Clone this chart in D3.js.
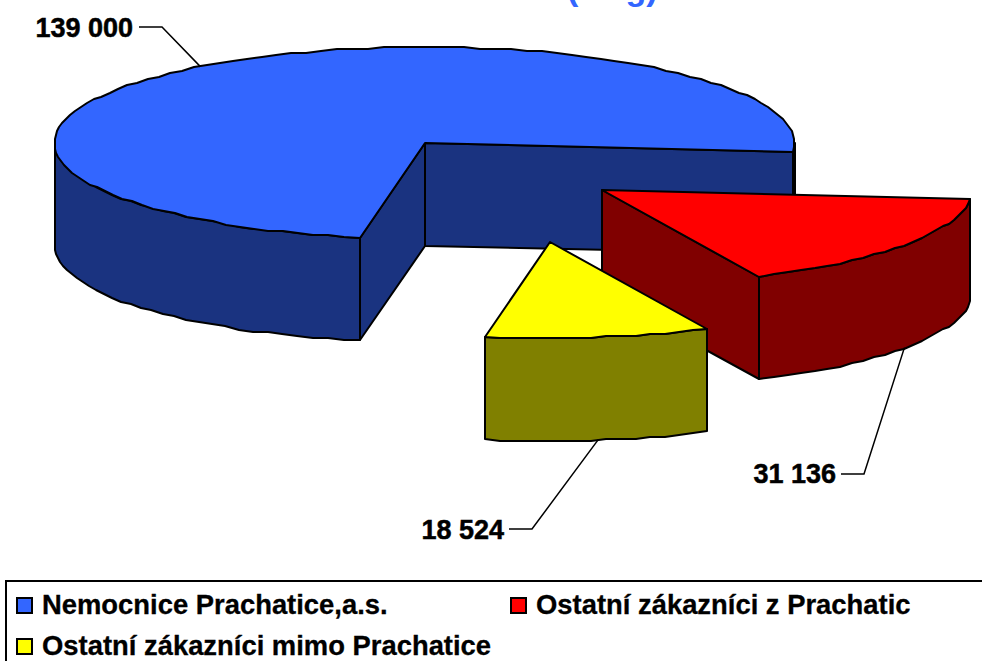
<!DOCTYPE html>
<html>
<head>
<meta charset="utf-8">
<script src="https://cdn.jsdelivr.net/npm/d3@7"></script>
<style>
html,body{margin:0;padding:0;background:#fff;overflow:hidden}
svg{display:block}
text{font-family:"Liberation Sans",Arial,sans-serif;font-weight:bold;fill:#000}
</style>
</head>
<body>
<svg id="c" width="982" height="661"></svg>
<script>
const categories = ["Nemocnice Prachatice,a.s.", "Ostatní zákazníci z Prachatic", "Ostatní zákazníci mimo Prachatice"];
const values = [139000, 31136, 18524];
const topColors = ["#3366FF", "#FF0000", "#FFFF00"];
const sideColors = ["#1A3380", "#800000", "#808000"];
const titleText = "(v kg)";

// layout
const cx = 424.5, cy = 143, rx = 370, ry = 96, depth = 102.5;
const explode = [[0, 0], [177, 47], [125, 99]];
const firstAngle = (100.1 + 90) * Math.PI / 180; // d3.pie angle: clockwise from 12 o'clock
const labelPos = [[133, 37], [836, 483], [504, 539]];
const leaderElbow = [[[139, 27], [162, 27]], [[841, 474], [864, 474]], [[509, 529], [532, 529]]];

const svg = d3.select("#c");
const fmt = d3.formatLocale({decimal: ",", thousands: " ", grouping: [3], currency: ["", ""]}).format(",d");
const line = d3.line();
const step = 2.5 * Math.PI / 180;
const yGrid = 2;

const arcs = d3.pie().value(d => d).sort(null)
  .startAngle(firstAngle).endAngle(firstAngle + 2 * Math.PI)(values);

function pt(a, i, dz) {
  const [ox, oy] = explode[i];
  return [cx + ox + rx * Math.sin(a), cy + oy - ry * Math.cos(a) + (dz || 0)];
}
function centre(i, dz) {
  return [cx + explode[i][0], cy + explode[i][1] + (dz || 0)];
}
function samples(a0, a1) {
  const n = Math.max(1, Math.ceil((a1 - a0) / step));
  return d3.range(n + 1).map(k => a0 + (a1 - a0) * k / n);
}
// rim polyline: the ends stay exact, the points between are snapped to a coarse grid
function rim(a0, a1, i, dz) {
  const as = samples(a0, a1);
  const base = cy + explode[i][1] + (dz || 0);
  return as.map((a, k) => {
    const p = pt(a, i, dz);
    if (k === 0 || k === as.length - 1) return p;
    const q = Math.round((p[1] - base + 96) / yGrid) * yGrid - 96 + base;
    return [p[0], q];
  });
}
// parts of [a0,a1] whose outer wall faces the viewer (lower half of the ellipse)
function frontParts(a0, a1) {
  const out = [];
  for (let k = -1; k <= 2; k++) {
    const lo = Math.max(a0, Math.PI / 2 + k * 2 * Math.PI);
    const hi = Math.min(a1, 3 * Math.PI / 2 + k * 2 * Math.PI);
    if (hi > lo) out.push([lo, hi]);
  }
  return out;
}
const P = p => [Math.round(p[0]), Math.round(p[1])];
const strokeStyle = s => s.attr("stroke", "#000").attr("stroke-width", 2).attr("stroke-linejoin", "round");

const chart = svg.append("g");
arcs.forEach((d, i) => {
  const g = chart.append("g");
  // radial side faces
  [[d.startAngle, Math.cos(d.startAngle - Math.PI / 2) < 0], [d.endAngle, Math.cos(d.endAngle - Math.PI / 2) > 0]]
    .filter(f => f[1]).forEach(([a]) => {
      const poly = [centre(i), pt(a, i), pt(a, i, depth), centre(i, depth)].map(P);
      g.append("path").attr("d", line(poly) + "Z").attr("fill", sideColors[i]).call(strokeStyle);
    });
  // outer wall
  frontParts(d.startAngle, d.endAngle).forEach(([lo, hi]) => {
    const poly = rim(lo, hi, i).concat(rim(lo, hi, i, depth).reverse()).map(P);
    g.append("path").attr("d", line(poly) + "Z").attr("fill", sideColors[i]).call(strokeStyle);
  });
  // top
  const top = [centre(i)].concat(rim(d.startAngle, d.endAngle, i)).map(P);
  g.append("path").attr("d", line(top) + "Z").attr("fill", topColors[i]).call(strokeStyle);
});

// leaders and value labels
arcs.forEach((d, i) => {
  const mid = (d.startAngle + d.endAngle) / 2;
  const anchor = pt(mid, i, i === 0 ? 0 : depth);
  svg.append("path")
    .attr("d", line(leaderElbow[i].concat([anchor])))
    .attr("fill", "none").attr("stroke", "#000").attr("stroke-width", 1.5);
  svg.append("text").attr("x", labelPos[i][0]).attr("y", labelPos[i][1])
    .attr("text-anchor", "end").attr("font-size", 27)
    .attr("stroke", "#000").attr("stroke-width", 0.5).text(fmt(values[i]));
});

// clipped title
svg.append("text").attr("x", 567).attr("y", 0).attr("font-size", 34)
  .style("fill", "#3366FF").text(titleText);

// legend
svg.append("rect").attr("x", 6).attr("y", 581).attr("width", 1000).attr("height", 120)
  .attr("fill", "#fff").attr("stroke", "#000").attr("stroke-width", 2);
const legendPos = [[17, 598], [511, 598], [17, 639]];
categories.forEach((c, i) => {
  const [x, y] = legendPos[i];
  svg.append("rect").attr("x", x).attr("y", y).attr("width", 15).attr("height", 15)
    .attr("fill", topColors[i]).attr("stroke", "#000").attr("stroke-width", 2);
  svg.append("text").attr("x", x + 25).attr("y", y + 15.5).attr("font-size", 27.4)
    .attr("stroke", "#000").attr("stroke-width", 0.3).text(c);
});
</script>
</body>
</html>
